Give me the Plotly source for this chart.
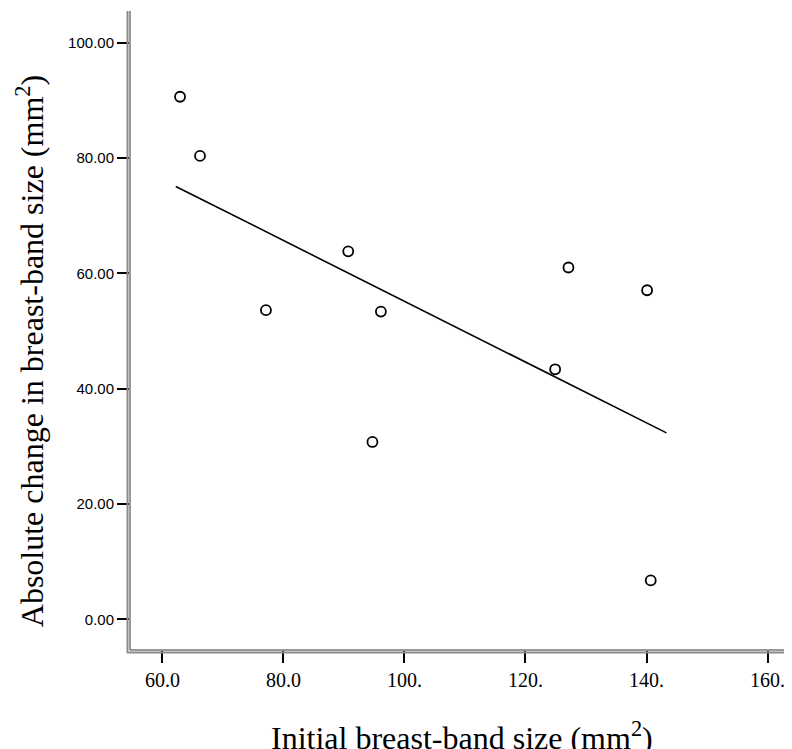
import numpy as np
import plotly.graph_objects as go

# Data
initial_size = [62.9, 66.2, 77.1, 90.7, 96.1, 94.7, 124.9, 127.1, 140.1, 140.7]
abs_change = [90.6, 80.35, 53.6, 63.8, 53.35, 30.75, 43.35, 61.0, 57.05, 6.75]
fit_x_range = [62.2, 143.3]

x_tickvals = [60, 80, 100, 120, 140, 160]
x_ticktext = ["60.0", "80.0", "100.", "120.", "140.", "160."]
y_tickvals = [0, 20, 40, 60, 80, 100]
y_ticktext = ["0.00", "20.00", "40.00", "60.00", "80.00", "100.00"]

x_title = "Initial breast-band size (mm<sup>2</sup>)"
y_title = "Absolute change in breast-band size (mm<sup>2</sup>)"

slope, intercept = np.polyfit(initial_size, abs_change, 1)
fit_x = np.array(fit_x_range)
fit_y = slope * fit_x + intercept

fig = go.Figure()
fig.add_trace(go.Scatter(
    x=fit_x, y=fit_y, mode="lines",
    line=dict(color="black", width=1.6), showlegend=False, hoverinfo="skip"))
fig.add_trace(go.Scatter(
    x=initial_size, y=abs_change, mode="markers",
    marker=dict(symbol="circle-open", size=10, color="black", line=dict(width=1.8)),
    showlegend=False))

serif = "Liberation Serif, Times New Roman, serif"
sans = "Liberation Sans, Arial, sans-serif"

# page body has an 8px margin, so the figure is 784x741
fig.update_layout(
    width=784, height=741,
    margin=dict(l=122, r=0, t=3, b=99, autoexpand=False),
    paper_bgcolor="white", plot_bgcolor="white",
    xaxis=dict(
        range=[54.63, 164.05], tickmode="array", tickvals=x_tickvals, ticktext=x_ticktext,
        showgrid=False, zeroline=False, showline=False,
        ticks="outside", ticklen=12, tickwidth=2, tickcolor="black",
        tickfont=dict(family=serif, size=20, color="black"),
    ),
    yaxis=dict(
        range=[-5.32, 105.47], tickmode="array", tickvals=y_tickvals, ticktext=y_ticktext,
        showgrid=False, zeroline=False, showline=False,
        ticks="outside", ticklen=12, tickwidth=2, tickcolor="black",
        tickfont=dict(family=sans, size=15, color="black"),
    ),
    annotations=[
        dict(text=x_title, xref="paper", yref="paper", x=0.2095, y=-0.1349,
             xanchor="left", yanchor="middle", showarrow=False,
             font=dict(family=serif, size=32, color="black")),
        dict(text=y_title, xref="paper", yref="paper", x=-0.1516, y=0.467,
             xanchor="center", yanchor="middle", showarrow=False, textangle=-90,
             font=dict(family=serif, size=32, color="black")),
    ],
    shapes=[
        # inner dark axis lines
        dict(type="line", xref="paper", yref="paper", x0=0, x1=0, y0=0, y1=1,
             line=dict(color="#333333", width=1)),
        dict(type="line", xref="paper", yref="paper", x0=0, x1=1, y0=0, y1=0,
             line=dict(color="#333333", width=1)),
        # outer grey axis lines
        dict(type="line", xref="paper", yref="paper", xsizemode="pixel", ysizemode="pixel",
             xanchor=0, yanchor=0, x0=-2.5, x1=-2.5, y0=-3, y1=639,
             line=dict(color="#8a8a8a", width=2)),
        dict(type="line", xref="paper", yref="paper", xsizemode="pixel", ysizemode="pixel",
             xanchor=0, yanchor=0, x0=-3, x1=662, y0=-2.5, y1=-2.5,
             line=dict(color="#8a8a8a", width=2)),
    ],
)

fig.write_html("out.html")
